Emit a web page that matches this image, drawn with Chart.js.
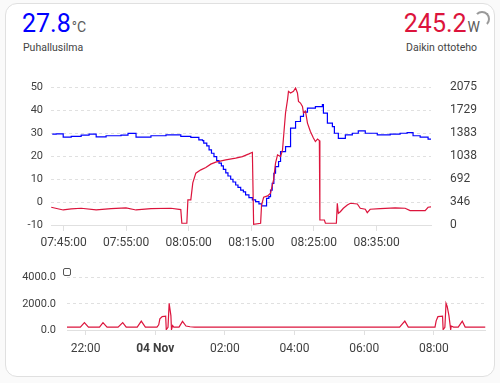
<!DOCTYPE html>
<html><head><meta charset="utf-8">
<script src="https://cdn.jsdelivr.net/npm/chart.js@4/dist/chart.umd.min.js"></script>
<style>
html,body{margin:0;padding:0;background:#fafafa;width:500px;height:383px;overflow:hidden;font-family:Roboto,sans-serif;}
#card{position:absolute;left:5px;top:3px;width:488px;height:372px;background:#fff;border:1px solid #e0e0e0;border-radius:12px;box-sizing:content-box;}
.big{position:absolute;top:10.5px;font-size:25px;line-height:25px;white-space:nowrap;}
.unit{font-size:14px;color:#5a5a5a;margin-left:1px;}
.sub{position:absolute;top:43px;font-size:10.5px;line-height:10.5px;color:#444;white-space:nowrap;}
#spin{position:absolute;left:474px;top:11px;width:16px;height:16px;box-sizing:border-box;border:2px solid transparent;border-top-color:#9a9a9a;border-right-color:#9a9a9a;border-radius:50%;}
#leg{position:absolute;left:63px;top:268px;width:8px;height:8px;box-sizing:border-box;border:1.5px solid #555;border-radius:2px;background:#fff;}
.wrap{position:absolute;left:0;width:500px;}
</style></head>
<body>
<div id="card"></div>
<div class="big" style="left:22px;color:#0000ff">27.8<span class="unit">°C</span></div>
<div class="sub" style="left:23px">Puhallusilma</div>
<div class="big" style="right:20px;color:#dc143c">245.2<span class="unit">W</span></div>
<div class="sub" style="right:23px">Daikin ottoteho</div>
<div id="spin"></div>
<div class="wrap" style="top:60px;height:200px"><canvas id="main"></canvas></div>
<div class="wrap" style="top:260px;height:110px"><canvas id="hist"></canvas></div>
<div id="leg"></div>
<script>
// ---- data ----
const tempTimes = ['07:43:12','07:43:50','07:44:57','07:46:14','07:47:49','07:49:05','07:50:13','07:51:48','07:54:11','07:55:18','07:56:35','07:58:58','08:01:22','08:02:57','08:03:44','08:05:20','08:06:37','08:07:12','08:07:24','08:07:53','08:08:15','08:08:38','08:09:02','08:09:28','08:09:50','08:10:13','08:10:32','08:10:55','08:11:16','08:11:42','08:12:04','08:12:30','08:12:52','08:13:18','08:13:44','08:14:05','08:14:37','08:15:10','08:15:41','08:16:13','08:16:38','08:17:17','08:17:26','08:17:48','08:18:04','08:18:20','08:18:36','08:18:52','08:19:21','08:19:40','08:20:08','08:20:28','08:21:16','08:22:04','08:22:51','08:23:20','08:23:58','08:25:14','08:26:21','08:26:31','08:27:09','08:27:57','08:28:16','08:28:54','08:30:01','08:31:08','08:32:05','08:33:12','08:35:07','08:37:11','08:38:46','08:39:53','08:40:50','08:41:58','08:43:14','08:43:52'];
const tempValues = [29.5,29.6,28.2,28.5,29.1,29.5,28.3,28.8,29.1,29.8,28.2,28.8,29.2,29.2,28.5,28.1,27.0,26.7,25.6,24.4,22.7,21.2,19.7,18.0,16.9,15.7,14.2,12.7,11.3,9.9,8.7,7.4,6.4,5.2,4.4,3.1,1.9,0.9,0.2,-0.8,-1.7,-1.7,1.6,2.3,5.2,8.1,12.5,15.4,17.6,21.9,21.9,24.1,32.1,35.0,37.2,39.1,40.8,41.5,42.3,38.6,34.3,32.8,29.9,27.7,29.2,29.9,30.9,29.9,29.2,29.5,29.9,30.2,28.8,28.2,27.3,27.8];

const powerTimes = ['07:43:02','07:44:57','07:46:14','07:47:49','07:50:13','07:52:36','07:54:59','07:56:35','07:58:58','08:02:09','08:03:44','08:03:54','08:04:42','08:04:52','08:05:20','08:05:39','08:06:08','08:06:56','08:07:44','08:08:31','08:09:19','08:10:55','08:12:30','08:13:34','08:14:37','08:15:10','08:15:22','08:16:29','08:16:38','08:16:58','08:17:36','08:18:04','08:18:33','08:18:52','08:19:11','08:19:40','08:19:59','08:20:08','08:20:28','08:20:47','08:20:56','08:21:16','08:21:44','08:22:04','08:22:22','08:22:32','08:22:51','08:23:10','08:23:20','08:23:39','08:23:58','08:24:26','08:24:55','08:25:14','08:25:34','08:25:52','08:25:57','08:26:40','08:26:50','08:28:35','08:28:44','08:28:54','08:29:13','08:29:42','08:30:20','08:30:49','08:31:56','08:32:24','08:33:12','08:33:31','08:33:59','08:35:35','08:37:59','08:39:34','08:40:22','08:42:46','08:43:14','08:43:52'];
const powerValues = [267,226,241,252,226,246,256,226,246,252,231,26,26,377,377,633,779,829,864,915,945,980,1005,1029,1070,1093,11,26,301,417,437,478,678,930,1055,1029,1130,1307,1688,1884,2009,1985,2009,2060,1985,1858,1834,1783,1683,1712,1532,1406,1307,1255,1291,1270,75,75,26,26,327,176,200,252,301,327,316,252,237,186,237,246,256,252,216,216,267,276];

const mainTickTimes = ['07:45:00','07:55:00','08:05:00','08:15:00','08:25:00','08:35:00'];
const tempAxisTicks = [-10,0,10,20,30,40,50];
const powerAxisTicks = [0,346,692,1038,1383,1729,2075];

const histTimes = ['21:28','21:51','21:58','22:05','22:24','22:30','22:37','22:56','23:04','23:10','23:29','23:36','23:43','00:03','00:06','00:08','00:12','00:18','00:19','00:22','00:24','00:27','00:28','00:30','00:32','00:41','00:47','00:53','01:00','01:08','07:01','07:10','07:16','08:02','08:04','08:07','08:15','08:16','08:19','08:21','08:23','08:26','08:29','08:30','08:34','08:42','08:49','08:54','09:29'];
const histValues = [224,224,563,224,224,563,224,224,563,224,224,678,224,224,400,850,1017,1050,30,200,2034,1100,30,340,224,224,656,300,250,224,224,678,224,224,700,1017,1050,30,200,2034,1800,1100,30,300,224,224,678,224,224];
const histTickTimes = ['22:00','00:00','02:00','04:00','06:00','08:00'];
const histTickLabels = ['22:00','04 Nov','02:00','04:00','06:00','08:00'];
const histAxisTicks = [0,2000,4000];

// ---- helpers ----
const toMin = s => { const p = s.split(':').map(Number); return p[0]*60 + p[1] + (p[2]||0)/60; };
const toHr = s => { const p = s.split(':').map(Number); let h = p[0] + p[1]/60 + (p[2]||0)/3600; if (h < 12) h += 24; return h; };
const FONT = 'Roboto';
const TICKC = '#3f3f3f';
const GRIDC = '#e0e0e0';

new Chart(document.getElementById('main'), {
  type: 'line',
  data: { datasets: [
    { label:'Daikin ottoteho', data: powerTimes.map((t,i)=>({x:toMin(t), y:powerValues[i]})), yAxisID:'y1',
      borderColor:'#dc143c', borderWidth:1.2, pointRadius:0, tension:0, fill:false },
    { label:'Puhallusilma', data: tempTimes.map((t,i)=>({x:toMin(t), y:tempValues[i]})), yAxisID:'y',
      borderColor:'#0000ff', borderWidth:1.2, pointRadius:0, stepped:true, fill:false }
  ]},
  options: {
    responsive:true, maintainAspectRatio:false, animation:false,
    layout:{ padding:{ top:27, left:0, right:0, bottom:0 } },
    plugins:{ legend:{display:false}, tooltip:{enabled:false} },
    scales:{
      x:{ type:'linear', min:toMin('07:43:00'), max:toMin('08:43:42'),
          afterBuildTicks: s => { s.ticks = mainTickTimes.map(t=>({value:toMin(t)})); },
          afterFit: s => { s.height = 35; },
          ticks:{ callback:(v,i)=>mainTickTimes[i], color:TICKC, font:{family:FONT,size:12}, padding:5, maxRotation:0, autoSkip:false },
          grid:{ drawOnChartArea:false, drawTicks:true, tickLength:6, color:GRIDC },
          border:{ display:true, color:GRIDC } },
      y:{ position:'left', min:-10, max:50,
          afterBuildTicks: s => { s.ticks = tempAxisTicks.map(v=>({value:v})); },
          afterFit: s => { s.width = 51; },
          ticks:{ callback:v=>String(v), color:TICKC, font:{family:FONT,size:11}, padding:8 },
          grid:{ color:GRIDC, drawTicks:false },
          border:{ display:false, dash:[3,3] } },
      y1:{ position:'right', min:0, max:2075,
          afterBuildTicks: s => { s.ticks = powerAxisTicks.map(v=>({value:v})); },
          afterFit: s => { s.width = 69; },
          ticks:{ callback:v=>String(v), color:TICKC, font:{family:FONT,size:12}, padding:11 },
          grid:{ display:false },
          border:{ display:false } }
    }
  }
});

new Chart(document.getElementById('hist'), {
  type: 'line',
  data: { datasets: [
    { label:'Daikin ottoteho', data: histTimes.map((t,i)=>({x:toHr(t), y:histValues[i]})),
      borderColor:'#dc143c', borderWidth:1.2, pointRadius:0, tension:0, fill:false }
  ]},
  options: {
    responsive:true, maintainAspectRatio:false, animation:false,
    layout:{ padding:{ top:11, left:0, right:14.5, bottom:0 } },
    plugins:{ legend:{display:false}, tooltip:{enabled:false} },
    scales:{
      x:{ type:'linear', min:toHr('21:28'), max:toHr('09:29'),
          afterBuildTicks: s => { s.ticks = histTickTimes.map(t=>({value:toHr(t)})); },
          afterFit: s => { s.height = 40; },
          ticks:{ callback:(v,i)=>histTickLabels[i], color:TICKC,
                  font: ctx => ({family:FONT, size:12, weight: (ctx.index===1 ? 'bold' : 'normal')}),
                  padding:7, maxRotation:0, autoSkip:false },
          grid:{ drawOnChartArea:false, drawTicks:true, tickLength:5, color:GRIDC },
          border:{ display:true, color:GRIDC } },
      y:{ position:'left', min:0, max:4000,
          afterBuildTicks: s => { s.ticks = histAxisTicks.map(v=>({value:v})); },
          afterFit: s => { s.width = 67; },
          ticks:{ callback:v=>Number(v).toFixed(1), color:TICKC, font:{family:FONT,size:11}, padding:11 },
          grid:{ color:GRIDC, drawTicks:false },
          border:{ display:false, dash:[3,3] } }
    }
  }
});
</script>
</body></html>
